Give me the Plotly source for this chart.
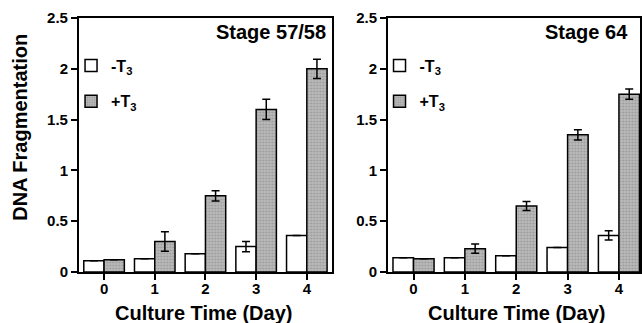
import plotly.graph_objects as go

days = [0, 1, 2, 3, 4]
tick_labels = ["0", "1", "2", "3", "4"]

# Stage 57/58
s57_minus = [0.11, 0.13, 0.18, 0.25, 0.36]
s57_minus_err = [0, 0, 0, 0.05, 0]
s57_plus = [0.12, 0.30, 0.75, 1.60, 2.00]
s57_plus_err = [0, 0.095, 0.05, 0.10, 0.095]

# Stage 64
s64_minus = [0.14, 0.14, 0.16, 0.24, 0.36]
s64_minus_err = [0, 0, 0, 0, 0.045]
s64_plus = [0.13, 0.23, 0.65, 1.35, 1.75]
s64_plus_err = [0, 0.045, 0.045, 0.05, 0.05]

y_ticks = [0, 0.5, 1, 1.5, 2, 2.5]
y_tick_text = ["0", "0.5", "1", "1.5", "2", "2.5"]

FONT = "Liberation Sans, Arial, Helvetica, sans-serif"
GRAY = "#bababa"

fig = go.Figure()


def add_pair(minus, minus_err, plus, plus_err, xa, ya, leg):
    fig.add_trace(go.Bar(
        x=days, y=minus, name="-T<sub>3</sub>", xaxis=xa, yaxis=ya,
        legend=leg, legendgroup="a" + leg,
        marker=dict(color="white", line=dict(color="black", width=1.5)),
        error_y=dict(type="data", array=minus_err, visible=True,
                     color="black", thickness=1.5, width=4),
    ))
    fig.add_trace(go.Bar(
        x=days, y=plus, name="+T<sub>3</sub>", xaxis=xa, yaxis=ya,
        legend=leg, legendgroup="b" + leg,
        marker=dict(color=GRAY, line=dict(color="black", width=1.5),
                    pattern=dict(shape=".", fgcolor="#7a7a7a", size=3, solidity=0.35)),
        error_y=dict(type="data", array=plus_err, visible=True,
                     color="black", thickness=1.5, width=4),
    ))


add_pair(s57_minus, s57_minus_err, s57_plus, s57_plus_err, "x", "y", "legend")
add_pair(s64_minus, s64_minus_err, s64_plus, s64_plus_err, "x2", "y2", "legend2")

axis_common = dict(
    showline=True, linecolor="black", linewidth=1.5, mirror=True,
    ticks="outside", ticklen=6, tickwidth=1.5, tickcolor="black",
    showgrid=False, zeroline=False,
    tickfont=dict(family=FONT, size=15, color="black", weight="bold"),
)
title_font = dict(family=FONT, size=20, color="black", weight="bold")
legend_font = dict(family=FONT, size=16, color="black", weight="bold")

fig.update_layout(
    width=642, height=323,
    margin=dict(l=0, r=0, t=18, b=51),
    paper_bgcolor="white", plot_bgcolor="white",
    barmode="group", bargap=0.2, bargroupgap=0,
    font=dict(family=FONT, color="black"),
    xaxis=dict(domain=[0.123, 0.519], range=[-0.5, 4.5], tickvals=days, ticktext=tick_labels,
               anchor="y", ticklabelstandoff=-4, **axis_common),
    yaxis=dict(domain=[0, 1], range=[0, 2.5], tickvals=y_ticks, ticktext=y_tick_text, anchor="x",
               **axis_common),
    xaxis2=dict(domain=[0.606, 1.0], range=[-0.5, 4.41], tickvals=days, ticktext=tick_labels,
                anchor="y2", ticklabelstandoff=-4, **axis_common),
    yaxis2=dict(domain=[0, 1], range=[0, 2.5], tickvals=y_ticks, ticktext=y_tick_text, anchor="x2",
                **axis_common),
    legend=dict(x=0.111, y=0.88, xanchor="left", yanchor="top", bgcolor="rgba(0,0,0,0)",
                traceorder="grouped", tracegroupgap=12, font=legend_font),
    legend2=dict(x=0.593, y=0.88, xanchor="left", yanchor="top", bgcolor="rgba(0,0,0,0)",
                 traceorder="grouped", tracegroupgap=12, font=legend_font),
    annotations=[
        dict(text="Stage 57/58", xref="paper", yref="paper", x=0.513, y=0.998, xanchor="right", yanchor="top",
             showarrow=False, font=dict(family=FONT, size=20, color="black", weight="bold")),
        dict(text="Stage 64", xref="paper", yref="paper", x=0.984, y=0.998, xanchor="right", yanchor="top",
             showarrow=False, font=dict(family=FONT, size=20, color="black", weight="bold")),
        dict(text="Culture Time (Day)", xref="paper", yref="paper", x=(0.123 + 0.519) / 2 - 0.003, y=-0.16,
             xanchor="center", yanchor="middle", showarrow=False, font=title_font),
        dict(text="Culture Time (Day)", xref="paper", yref="paper", x=(0.606 + 1.0) / 2 + 0.004, y=-0.16,
             xanchor="center", yanchor="middle", showarrow=False, font=title_font),
        dict(text="DNA Fragmentation", xref="paper", yref="paper", x=0.031, y=0.571, textangle=-90,
             xanchor="center", yanchor="middle", showarrow=False, font=title_font),
    ],
)

fig.write_html("out.html", config={"displayModeBar": False},
               post_script="document.body.style.margin='0';")
